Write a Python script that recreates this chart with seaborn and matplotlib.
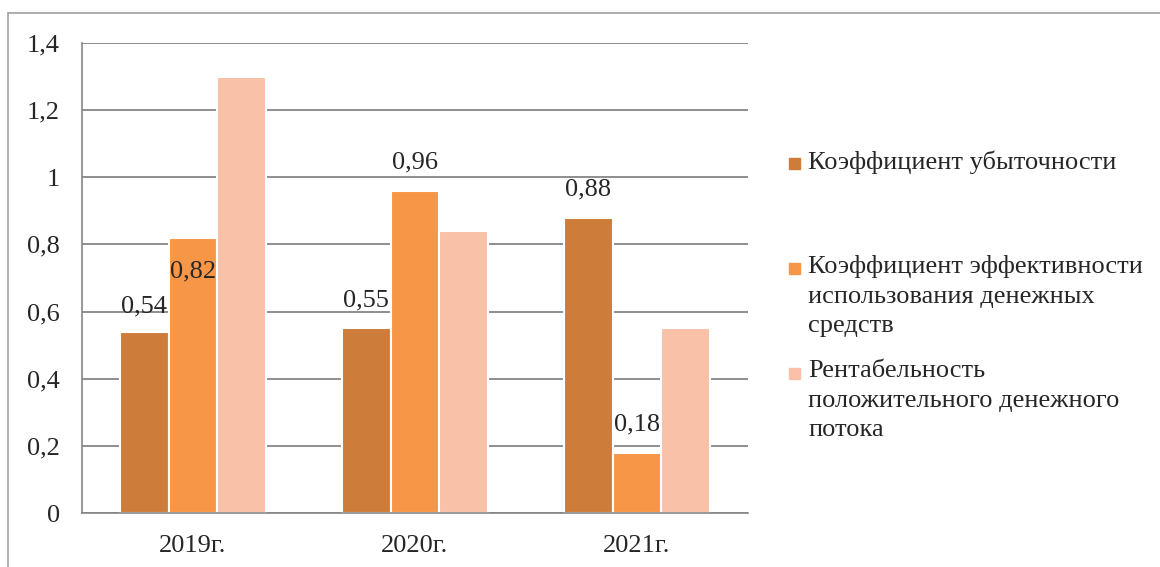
import pandas as pd
import numpy as np
import matplotlib.pyplot as plt
import matplotlib.patches as mpatches
import seaborn as sns

# chart data
years = ['2019г.', '2020г.', '2021г.']
series = ['Коэффициент убыточности',
          'Коэффициент эффективности\nиспользования денежных\nсредств',
          'Рентабельность\nположительного денежного\nпотока']
loss_ratio = [0.54, 0.55, 0.88]
cash_eff = [0.82, 0.96, 0.18]
cash_profit = [1.30, 0.84, 0.55]
yticks = [0, 0.2, 0.4, 0.6, 0.8, 1.0, 1.2, 1.4]
ytick_labels = ['0', '0,2', '0,4', '0,6', '0,8', '1', '1,2', '1,4']

colors = ['#CD7C3A', '#F79646', '#F9C1A8']

df = pd.DataFrame({
    'year': years * 3,
    'series': [series[0]] * 3 + [series[1]] * 3 + [series[2]] * 3,
    'value': loss_ratio + cash_eff + cash_profit,
})

sns.set_style('white')
plt.rcParams['font.family'] = 'serif'
plt.rcParams['font.serif'] = ['Liberation Serif', 'DejaVu Serif']

fs = 19

fig = plt.figure(figsize=(11.6, 5.67), dpi=100)
ax = fig.add_axes([82 / 1160, 1 - 513 / 567, 666 / 1160, 470 / 567])

sns.barplot(data=df, x='year', y='value', hue='series', palette=colors,
            width=0.66, edgecolor='white', linewidth=1.5, ax=ax, legend=False,
            saturation=1)

ax.set_ylim(0, 1.4)
ax.set_xlim(-0.5, 2.5)
ax.set_yticks(yticks)
ax.set_yticklabels(ytick_labels, fontsize=fs)
ax.tick_params(axis='x', which='major', length=0, labelsize=fs, pad=16)
ax.set_xticks([0.5, 1.5, 2.5], minor=True)
ax.tick_params(axis='x', which='minor', length=7, color='#868686', width=1.2, direction='out')
ax.tick_params(axis='y', length=7, color='#868686', width=1.2, direction='out', pad=9)
ax.set_xlabel('')
ax.set_ylabel('')
ax.yaxis.grid(True, color='#868686', linewidth=1.3)
ax.set_axisbelow(True)
for s in ['top', 'right']:
    ax.spines[s].set_visible(False)
for s in ['left', 'bottom']:
    ax.spines[s].set_color('#868686')
    ax.spines[s].set_linewidth(1.2)

# data labels for the first two series (0.82 sits inside the bar)
offsets = [[18, 20, 20], [-24, 20, 20]]
for i in range(2):
    bars = ax.containers[i]
    vals = [loss_ratio, cash_eff][i]
    for j, b in enumerate(bars):
        ax.annotate(str(vals[j]).replace('.', ','),
                    (b.get_x() + b.get_width() / 2, b.get_height()),
                    xytext=(0, offsets[i][j]), textcoords='offset points',
                    ha='center', va='center', fontsize=fs)

# legend drawn by hand to keep the handle on the first line
legend_y = [164, 269, 374]
for k in range(3):
    y = 1 - legend_y[k] / 567
    fig.patches.append(mpatches.Rectangle((789 / 1160, y - 5 / 567), 11 / 1160, 11 / 567,
                                          transform=fig.transFigure, color=colors[k]))
    fig.text(808 / 1160, y + 14 / 567, series[k], fontsize=fs, va='top', ha='left',
             linespacing=1.45, transform=fig.transFigure)

# outer frame
fig.patches.append(mpatches.Rectangle((8 / 1160, -0.1), 1.2, 1.1 - 13 / 567,
                                      transform=fig.transFigure, fill=False,
                                      edgecolor='#a0a0a0', linewidth=1.2))

plt.savefig('out.png', dpi=100)
